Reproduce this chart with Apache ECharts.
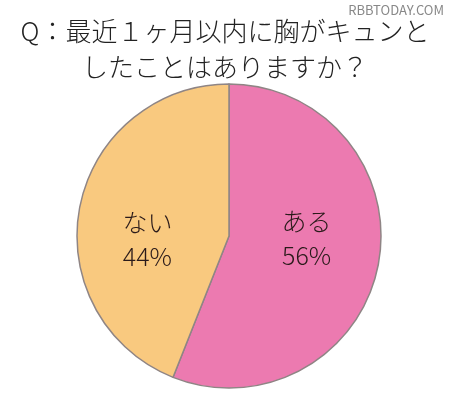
<!DOCTYPE html>
<html>
<head>
<meta charset="utf-8">
<script src="https://cdn.jsdelivr.net/npm/echarts@6/dist/echarts.min.js"></script>
<style>
  html, body { margin: 0; padding: 0; background: #fff; }
  #chart { width: 450px; height: 398px; }
</style>
</head>
<body>
<div id="chart"></div>
<script>
const titleLines = ["Q：最近１ヶ月以内に胸がキュンと", "したことはありますか？"];
const categories = ["ある", "ない"];
const values = [56, 44];
const colors = ["#EC7AB0", "#F9C97F"];
const labelOffsets = [[0, -12], [-4, 18]];

const chart = echarts.init(document.getElementById("chart"));
const font = '"Noto Sans CJK JP", "Noto Sans", sans-serif';

chart.setOption({
    animation: false,
    title: {
        text: titleLines.join("\n"),
        left: "center",
        top: 8,
        textStyle: {
            fontFamily: font,
            fontSize: 26,
            fontWeight: 300,
            lineHeight: 36,
            color: "#222"
        }
    },
    graphic: [{
        type: "text",
        right: 6,
        top: 4,
        style: {
            text: "RBBTODAY.COM",
            fontFamily: font,
            fontSize: 13,
            fill: "#888"
        }
    }],
    series: [{
        type: "pie",
        center: [229, 236],
        radius: [0, 152],
        startAngle: 90,
        clockwise: true,
        label: {
            position: "inside",
            fontFamily: font,
            fontSize: 25,
            fontWeight: 300,
            lineHeight: 34,
            color: "#2a1a1a",
            formatter: p => `${p.name}\n${p.value}%`
        },
        labelLine: { show: false },
        itemStyle: { borderColor: "#8f8585", borderWidth: 1.5 },
        emphasis: { disabled: true },
        data: categories.map((name, i) => ({
            name: name,
            value: values[i],
            itemStyle: { color: colors[i] },
            label: { offset: labelOffsets[i] }
        }))
    }]
});
</script>
</body>
</html>
